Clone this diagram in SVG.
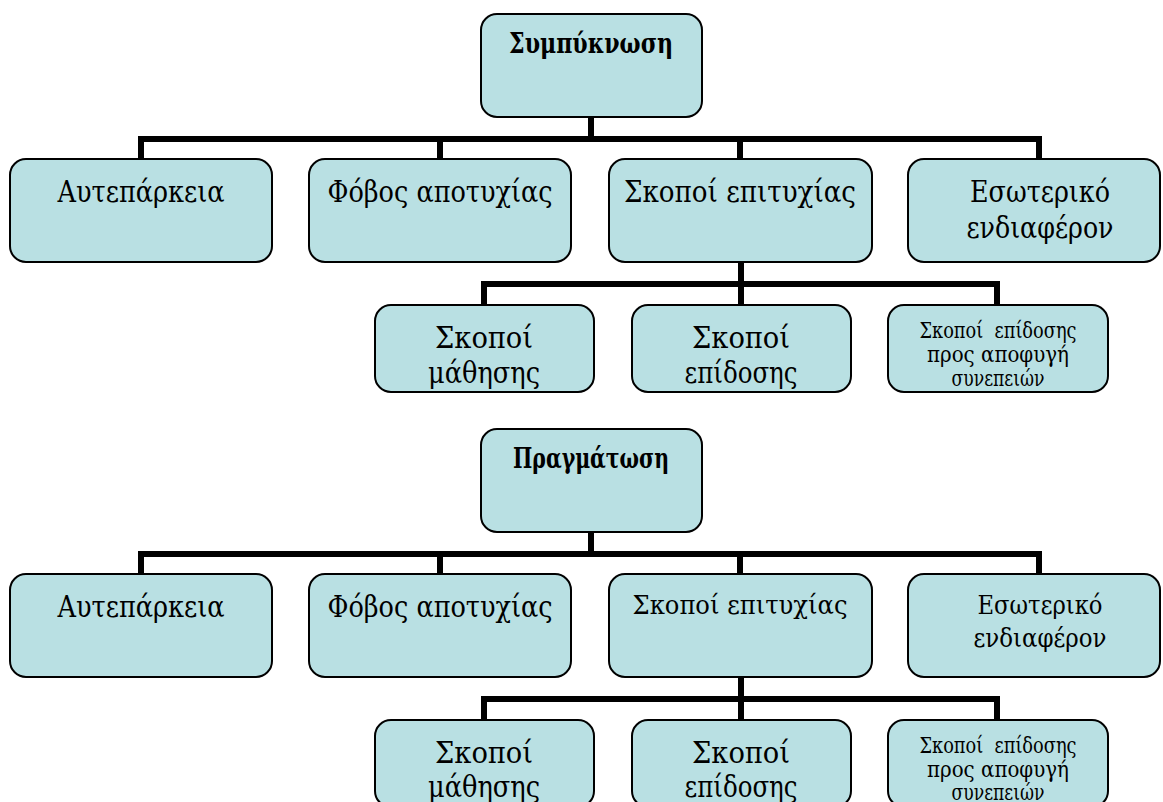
<svg xmlns="http://www.w3.org/2000/svg" width="1163" height="802" viewBox="0 0 1163 802">
<style>
.box{fill:#b9e0e3;stroke:#000;stroke-width:2}
.t{font-family:"DejaVu Serif","Liberation Serif",serif;fill:#000;text-anchor:middle}
.root{font-size:28px;font-weight:bold}
.l1{font-size:30px}
.l1s{font-size:26px}
.l2{font-size:30px}
.sm{font-size:22px}
.conn{fill:none;stroke:#000;stroke-width:6;stroke-linecap:butt;stroke-linejoin:miter}
</style>
<rect width="1163" height="802" fill="#fff"/>
<g id="connectors">
  <path class="conn" d="M591 117V139M141 159V139H1039V159M440 139V159M740 139V159"/>
  <path class="conn" d="M741 262V284M484 305V284H997V305M741 284V305"/>
  <path class="conn" d="M591 532V554M141 574V554H1039V574M440 554V574M740 554V574"/>
  <path class="conn" d="M741 677V699M484 720V699H997V720M741 699V720"/>
</g>
<g id="root1"><rect class="box" x="481" y="14" width="221" height="103" rx="16"/><text class="t root" x="591" y="53" textLength="164" lengthAdjust="spacingAndGlyphs">Συμπύκνωση</text></g>
<g id="a1"><rect class="box" x="10" y="159" width="262" height="103" rx="16"/><text class="t l1" x="141" y="202" textLength="167" lengthAdjust="spacingAndGlyphs">Αυτεπάρκεια</text></g>
<g id="b1"><rect class="box" x="309" y="159" width="262" height="103" rx="16"/><text class="t l1" x="440" y="202" textLength="225" lengthAdjust="spacingAndGlyphs">Φόβος αποτυχίας</text></g>
<g id="c1"><rect class="box" x="609" y="159" width="263" height="103" rx="16"/><text class="t l1" x="740" y="202" textLength="232" lengthAdjust="spacingAndGlyphs">Σκοποί επιτυχίας</text></g>
<g id="d1"><rect class="box" x="908" y="159" width="252" height="103" rx="16"/><text class="t l1" x="1040" y="202" textLength="140" lengthAdjust="spacingAndGlyphs">Εσωτερικό</text><text class="t l1" x="1040" y="238" textLength="147" lengthAdjust="spacingAndGlyphs">ενδιαφέρον</text></g>
<g id="e1"><rect class="box" x="375" y="305" width="219" height="87" rx="16"/><text class="t l2" x="484" y="348" textLength="98" lengthAdjust="spacingAndGlyphs">Σκοποί</text><text class="t l2" x="484" y="383" textLength="112" lengthAdjust="spacingAndGlyphs">μάθησης</text></g>
<g id="f1"><rect class="box" x="632" y="305" width="219" height="87" rx="16"/><text class="t l2" x="741" y="348" textLength="98" lengthAdjust="spacingAndGlyphs">Σκοποί</text><text class="t l2" x="741" y="383" textLength="113" lengthAdjust="spacingAndGlyphs">επίδοσης</text></g>
<g id="g1"><rect class="box" x="888" y="305" width="220" height="87" rx="16"/><text class="t sm" x="998" y="338" textLength="157" lengthAdjust="spacingAndGlyphs" xml:space="preserve">Σκοποί  επίδοσης</text><text class="t sm" x="998" y="362" textLength="142" lengthAdjust="spacingAndGlyphs">προς αποφυγή</text><text class="t sm" x="998" y="386" textLength="93" lengthAdjust="spacingAndGlyphs">συνεπειών</text></g>

<g id="root2"><rect class="box" x="481" y="429" width="221" height="103" rx="16"/><text class="t root" x="591" y="468" textLength="156" lengthAdjust="spacingAndGlyphs">Πραγμάτωση</text></g>
<g id="a2"><rect class="box" x="10" y="574" width="262" height="103" rx="16"/><text class="t l1" x="141" y="617" textLength="167" lengthAdjust="spacingAndGlyphs">Αυτεπάρκεια</text></g>
<g id="b2"><rect class="box" x="309" y="574" width="262" height="103" rx="16"/><text class="t l1" x="440" y="617" textLength="225" lengthAdjust="spacingAndGlyphs">Φόβος αποτυχίας</text></g>
<g id="c2"><rect class="box" x="609" y="574" width="263" height="103" rx="16"/><text class="t l1s" x="740" y="614" textLength="215" lengthAdjust="spacingAndGlyphs">Σκοποί επιτυχίας</text></g>
<g id="d2"><rect class="box" x="908" y="574" width="252" height="103" rx="16"/><text class="t l1s" x="1040" y="614" textLength="125" lengthAdjust="spacingAndGlyphs">Εσωτερικό</text><text class="t l1s" x="1040" y="647" textLength="133" lengthAdjust="spacingAndGlyphs">ενδιαφέρον</text></g>
<g id="e2"><rect class="box" x="375" y="720" width="219" height="87" rx="16"/><text class="t l2" x="484" y="763" textLength="98" lengthAdjust="spacingAndGlyphs">Σκοποί</text><text class="t l2" x="484" y="797" textLength="112" lengthAdjust="spacingAndGlyphs">μάθησης</text></g>
<g id="f2"><rect class="box" x="632" y="720" width="219" height="87" rx="16"/><text class="t l2" x="741" y="763" textLength="98" lengthAdjust="spacingAndGlyphs">Σκοποί</text><text class="t l2" x="741" y="797" textLength="113" lengthAdjust="spacingAndGlyphs">επίδοσης</text></g>
<g id="g2"><rect class="box" x="888" y="720" width="220" height="87" rx="16"/><text class="t sm" x="998" y="753" textLength="157" lengthAdjust="spacingAndGlyphs" xml:space="preserve">Σκοποί  επίδοσης</text><text class="t sm" x="998" y="777" textLength="142" lengthAdjust="spacingAndGlyphs">προς αποφυγή</text><text class="t sm" x="998" y="800" textLength="93" lengthAdjust="spacingAndGlyphs">συνεπειών</text></g>
</svg>
